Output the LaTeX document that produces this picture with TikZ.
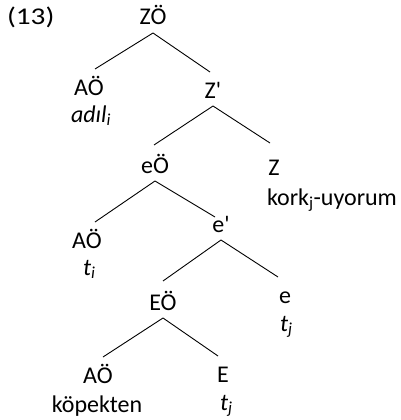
\documentclass[tikz,border=0pt]{standalone}
\usepackage{fontspec}
\setmainfont{Carlito}[Ligatures=TeXOff]
\begin{document}
\begin{tikzpicture}[x=1pt,y=-1pt,
  lab/.style={inner sep=0pt,outer sep=0pt,anchor=base,text height=26pt,text depth=8pt,font=\fontsize{24}{29}\selectfont},
  sub/.style={inner sep=0pt,outer sep=0pt,anchor=base west,font=\fontsize{24}{29}\selectfont},
  edge/.style={line width=0.9pt,black}]
\useasboundingbox (0,0) rectangle (401,420);
\node[sub] (num) at (7,25) {\scalebox{1.22}[1]{(13)}};
\node[lab] (ZO) at (153,25) {ZÖ};
\node[lab] (AO1) at (89,95) {AÖ};
\node[sub] (adil) at (71,122) {\itshape adıl\textsubscript{i}};
\node[lab] (Zp) at (213,98) {Z'};
\node[lab] (Z) at (274,175) {Z};
\node[sub] (kork) at (267,205) {kork\textsubscript{j}-uyorum};
\node[lab] (eO) at (155,173) {eÖ};
\node[lab] (AO2) at (87,248) {AÖ};
\node[sub] (ti) at (83,275) {\itshape t\textsubscript{i}};
\node[lab] (ep) at (221,232) {e'};
\node[lab] (e) at (285,303) {e};
\node[sub] (tj2) at (280,331) {\itshape t\textsubscript{j}};
\node[lab] (EO) at (163,310) {EÖ};
\node[lab] (AO3) at (98,383) {AÖ};
\node[lab] (kop) at (97,412) {köpekten};
\node[lab] (E) at (223,382) {E};
\node[sub] (tj3) at (220,410) {\itshape t\textsubscript{j}};
\draw[edge] (ZO.south) -- ([xshift=6pt]AO1.north);
\draw[edge] (ZO.south) -- ([xshift=-3pt]Zp.north);
\draw[edge] (Zp.south) -- ([xshift=-1pt,yshift=2pt]eO.north);
\draw[edge] (Zp.south) -- ([xshift=-4pt,yshift=6pt]Z.north);
\draw[edge] (eO.south) -- ([xshift=8pt]AO2.north);
\draw[edge] (eO.south) -- ([xshift=-6pt,yshift=-11pt]ep.north);
\draw[edge] (ep.south) -- ([yshift=3pt]EO.north);
\draw[edge] (ep.south) -- ([xshift=-7pt]e.north);
\draw[edge] (EO.south) -- ([xshift=5pt]AO3.north);
\draw[edge] (EO.south) -- ([xshift=-5pt]E.north);
\end{tikzpicture}
\end{document}
